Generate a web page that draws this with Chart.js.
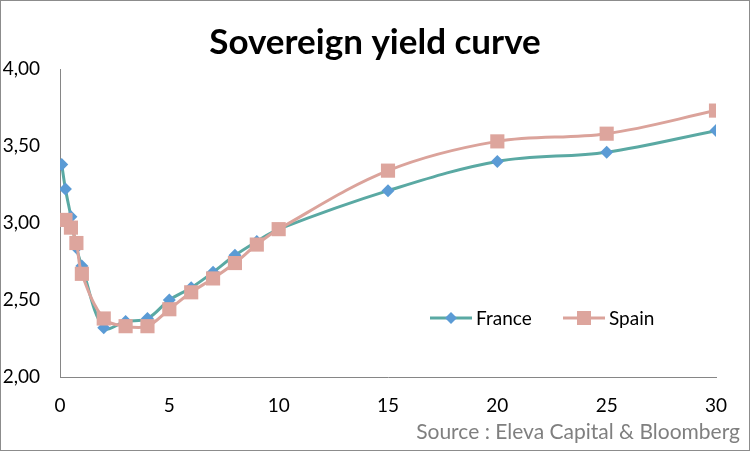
<!DOCTYPE html>
<html>
<head>
<meta charset="utf-8">
<script src="https://cdn.jsdelivr.net/npm/chart.js@4"></script>
<style>
    html, body { margin: 0; padding: 0; background: #ffffff; }
    #wrap { width: 750px; height: 451px; }
</style>
</head>
<body>
<div id="wrap"><canvas id="chart" width="750" height="451"></canvas></div>
<script>
/* ---------- Data ---------- */
const franceMaturities = [0.08, 0.25, 0.5, 0.75, 1, 2, 3, 4, 5, 6, 7, 8, 9, 10, 15, 20, 25, 30];
const franceYields     = [3.38, 3.22, 3.04, 2.84, 2.72, 2.32, 2.36, 2.38, 2.50, 2.58, 2.68, 2.79, 2.88, 2.96, 3.21, 3.40, 3.46, 3.60];

const spainMaturities  = [0.25, 0.5, 0.75, 1, 2, 3, 4, 5, 6, 7, 8, 9, 10, 15, 20, 25, 30];
const spainYields      = [3.02, 2.97, 2.87, 2.67, 2.38, 2.33, 2.33, 2.44, 2.55, 2.64, 2.74, 2.86, 2.96, 3.34, 3.53, 3.58, 3.73];

const xTicks = [0, 5, 10, 15, 20, 25, 30];
const yTicks = [2.0, 2.5, 3.0, 3.5, 4.0];

const chartTitle = "Sovereign yield curve";
const sourceText = "Source : Eleva Capital & Bloomberg";

const FONT = "Lato, 'Open Sans', sans-serif";

function toPoints(xs, ys) {
    return xs.map((x, i) => ({ x: x, y: ys[i] }));
}

/* ---------- Title, legend, source, frame ---------- */
const decorPlugin = {
    id: "decor",
    afterDraw(chart) {
        const ctx = chart.ctx;
        ctx.save();

        // outer frame
        ctx.strokeStyle = "#8c8c8c";
        ctx.lineWidth = 1;
        ctx.strokeRect(0.5, 0.5, chart.width - 1, chart.height - 1);

        // title
        ctx.fillStyle = "#000000";
        ctx.font = "bold 35px " + FONT;
        ctx.textAlign = "center";
        ctx.textBaseline = "middle";
        ctx.fillText(chartTitle, 375, 43);

        // source
        ctx.fillStyle = "#7f7f7f";
        ctx.font = "21px " + FONT;
        ctx.textAlign = "right";
        ctx.fillText(sourceText, 740, 432);

        // legend inside plot (France first, then Spain)
        const items = [
            { ds: chart.data.datasets[1], x: 430 },
            { ds: chart.data.datasets[0], x: 563 }
        ];
        const ly = 318;
        items.forEach(it => {
            const cx = it.x + 21;
            ctx.strokeStyle = it.ds.borderColor;
            ctx.lineWidth = 3;
            ctx.beginPath();
            ctx.moveTo(it.x, ly);
            ctx.lineTo(it.x + 42, ly);
            ctx.stroke();

            ctx.fillStyle = it.ds.pointBackgroundColor;
            ctx.beginPath();
            if (it.ds.pointStyle === "rect") {
                ctx.rect(cx - 7, ly - 7, 14, 14);
            } else {
                ctx.moveTo(cx, ly - 6);
                ctx.lineTo(cx + 6, ly);
                ctx.lineTo(cx, ly + 6);
                ctx.lineTo(cx - 6, ly);
                ctx.closePath();
            }
            ctx.fill();

            ctx.fillStyle = "#000000";
            ctx.font = "19px " + FONT;
            ctx.textAlign = "left";
            ctx.fillText(it.ds.label, it.x + 46, ly + 1);
        });

        ctx.restore();
    }
};

/* ---------- Chart ---------- */
function initChart() {
    const ctx = document.getElementById("chart").getContext("2d");

    new Chart(ctx, {
        type: "line",
        data: {
            datasets: [
                {
                    label: "Spain",
                    data: toPoints(spainMaturities, spainYields),
                    borderColor: "#dba39b",
                    borderWidth: 3,
                    pointStyle: "rect",
                    pointRadius: 10,
                    pointBackgroundColor: "#dda59d",
                    pointBorderColor: "#dda59d",
                    pointBorderWidth: 0,
                    tension: 0.35,
                    fill: false
                },
                {
                    label: "France",
                    data: toPoints(franceMaturities, franceYields),
                    borderColor: "#5aa9a3",
                    borderWidth: 3,
                    pointStyle: "rectRot",
                    pointRadius: 6.5,
                    pointBackgroundColor: "#5b9bd5",
                    pointBorderColor: "#5b9bd5",
                    pointBorderWidth: 0,
                    tension: 0.35,
                    fill: false
                }
            ]
        },
        options: {
            responsive: false,
            animation: false,
            layout: { padding: { top: 69, right: 34, bottom: 0, left: 0 } },
            plugins: {
                legend: { display: false },
                title: { display: false },
                tooltip: { enabled: false }
            },
            scales: {
                x: {
                    type: "linear",
                    min: 0,
                    max: 30,
                    afterBuildTicks: scale => { scale.ticks = xTicks.map(v => ({ value: v })); },
                    afterFit: scale => { scale.height = 74; },
                    grid: { display: false, drawTicks: false },
                    border: { display: true, color: "#868686", width: 1 },
                    ticks: {
                        color: "#000000",
                        padding: 17,
                        maxRotation: 0,
                        font: { family: FONT, size: 19 }
                    }
                },
                y: {
                    min: 2,
                    max: 4,
                    afterBuildTicks: scale => { scale.ticks = yTicks.map(v => ({ value: v })); },
                    afterFit: scale => { scale.width = 60; },
                    grid: { display: false, drawTicks: false },
                    border: { display: true, color: "#868686", width: 1 },
                    ticks: {
                        color: "#000000",
                        padding: 20,
                        font: { family: FONT, size: 19 },
                        callback: v => v.toFixed(2).replace(".", ",")
                    }
                }
            }
        },
        plugins: [decorPlugin]
    });
}

document.addEventListener("DOMContentLoaded", initChart);
</script>
</body>
</html>
